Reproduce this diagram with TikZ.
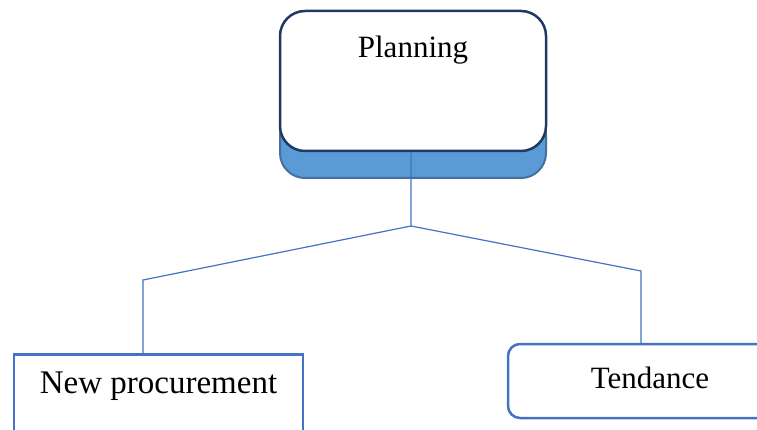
\documentclass[tikz,border=0pt]{standalone}
\usepackage{fontspec}
\setmainfont{Liberation Serif}
\definecolor{lineblue}{HTML}{4472C4}
\definecolor{navy}{HTML}{203864}
\definecolor{shadowfill}{HTML}{5B9BD5}
\definecolor{shadowline}{HTML}{41719C}
\begin{document}
\begin{tikzpicture}[x=1pt,y=-1pt,
  txt/.style={font=\fontsize{31}{36}\selectfont, inner sep=0pt},
  planbox/.style={draw=navy, line width=2.5pt, fill=white, rounded corners=25pt,
    minimum width=266pt, minimum height=140pt, inner sep=0pt},
  npbox/.style={draw=lineblue, line width=2.5pt, minimum width=289pt, minimum height=100pt, inner sep=0pt},
  tbox/.style={draw=lineblue, line width=2.5pt, rounded corners=12pt, minimum width=284pt, minimum height=74pt, inner sep=0pt},
  conn/.style={draw=lineblue, line width=1.2pt}]
\useasboundingbox (0,0) rectangle (757,430);
\clip (0,0) rectangle (757,430);
% blue base under Planning
\draw[fill=shadowfill, draw=shadowline, line width=2pt, rounded corners=25pt] (280,110) rectangle (546,178);
\node[planbox] (p) at (413,81) {};
\node[txt, anchor=base] (pt) at (413,58) {Planning};
% child boxes
\node[npbox, anchor=north] (np) at (158.5,353) {};
\node[txt, font=\fontsize{33}{38}\selectfont, anchor=base] (npt) at (158.5,393) {New procurement};
\node[tbox] (t) at (650,381) {};
\node[txt, anchor=base] (tt) at (650,388) {Tendance};
% connectors
\coordinate (j) at (411,226);
\coordinate (jl) at (143,280);
\coordinate (jr) at (641,271);
\draw[conn] (p.south -| j) -- (j) -- (jl) -- (jl |- np.north);
\draw[conn] (j) -- (jr) -- (jr |- t.north);
\end{tikzpicture}
\end{document}
